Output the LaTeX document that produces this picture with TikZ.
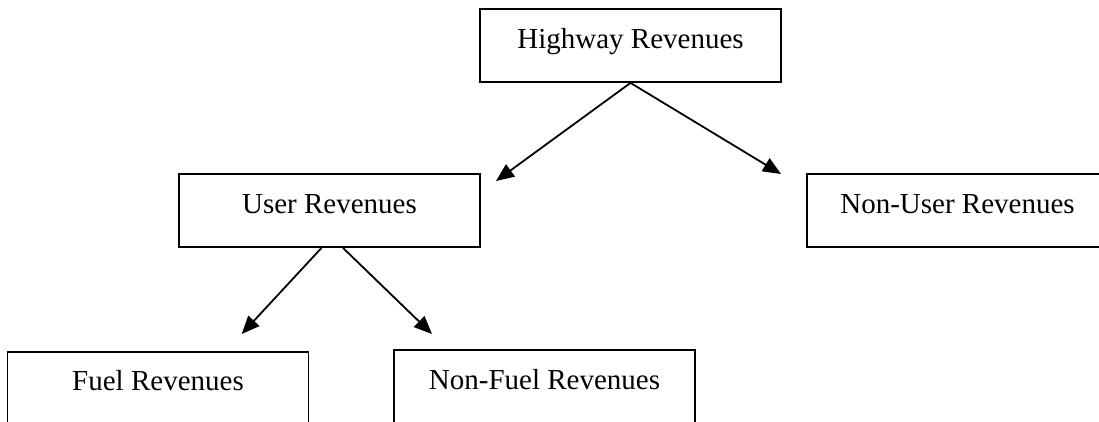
\documentclass[tikz,border=0pt]{standalone}
\usepackage{fontspec}
\setmainfont{Liberation Serif}
\usetikzlibrary{arrows.meta,calc}
\begin{document}
\begin{tikzpicture}[x=1pt,y=-1pt,
  box/.style={draw,line width=1.8pt,rectangle,minimum width=301pt,minimum height=73pt,
    inner sep=0pt,font=\fontsize{29}{35}\selectfont,text height=21pt,text depth=16pt},
  link/.style={line width=1.8pt,-{Triangle[length=18pt,width=15pt]}}]
\useasboundingbox (0,0) rectangle (1099,421);
\clip (0,0) rectangle (1099,421);

% revenue boxes
\node[box] (hw)      at (630.5,45.5)  {Highway Revenues};
\node[box] (user)    at (329.5,210.5) {User Revenues};
\node[box] (nonuser) at (957.5,210.5) {Non-User Revenues};
\node[box] (fuel)    at (158,388.2)   {Fuel Revenues};
\node[box] (nonfuel) at (544.5,386.5) {Non-Fuel Revenues};

% free arrow ends
\coordinate (tipU)  at (496,181);
\coordinate (tipN)  at (781,174);
\coordinate (tipF)  at (241.7,334);
\coordinate (tipNF) at (432,334);

% connectors
\draw[link] (hw.south) -- (tipU);
\draw[link] (hw.south) -- (tipN);
\draw[link] ($(user.south)+(-8,0)$) -- (tipF);
\draw[link] ($(user.south)+(13.5,0)$) -- (tipNF);
\end{tikzpicture}
\end{document}
